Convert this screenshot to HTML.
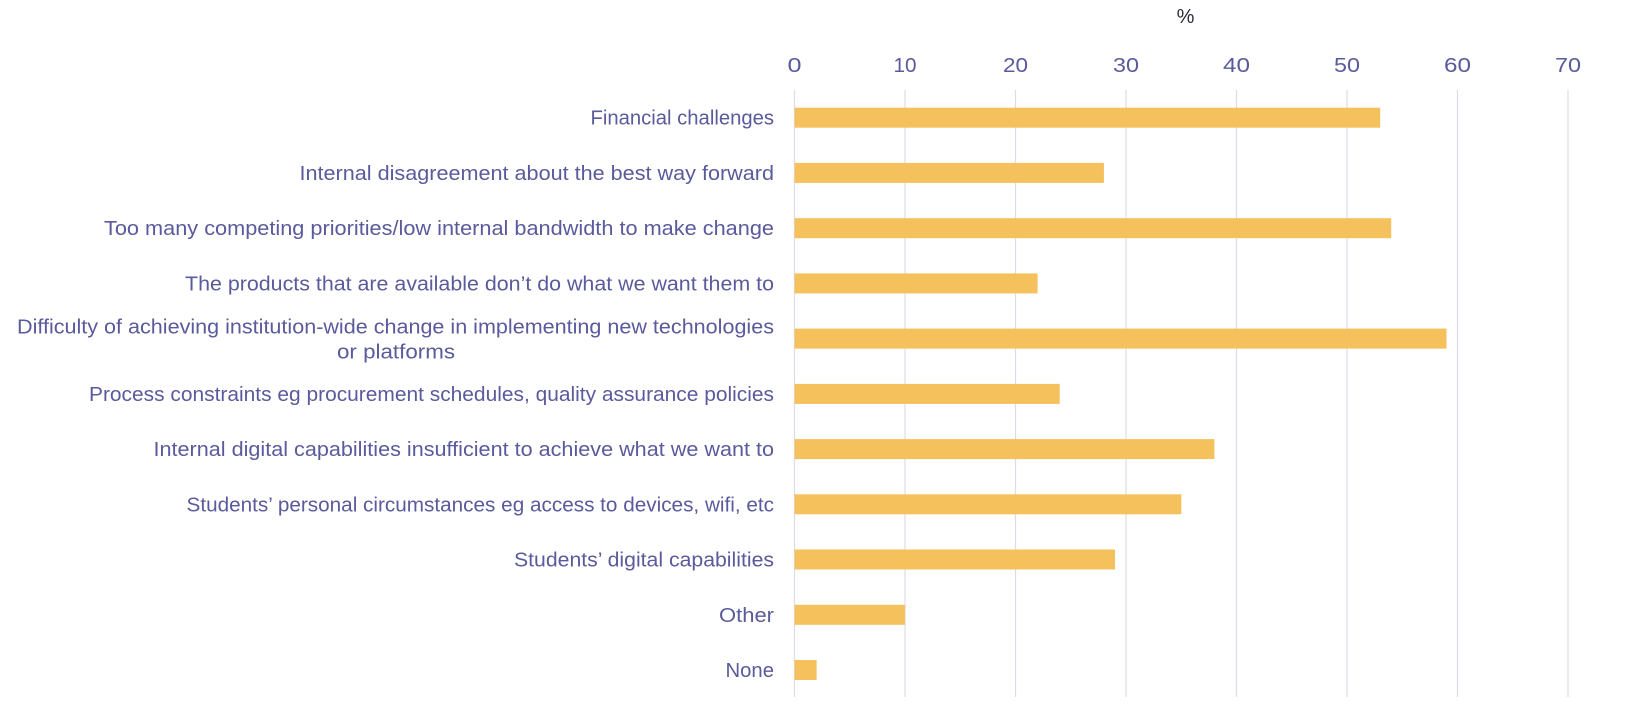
<!DOCTYPE html>
<html><head><meta charset="utf-8"><style>
html,body{margin:0;padding:0;background:#fff;}
svg{display:block;}
text{font-family:"Liberation Sans",sans-serif;}
</style></head><body>
<svg width="1648" height="716" viewBox="0 0 1648 716" xmlns="http://www.w3.org/2000/svg">
<rect width="1648" height="716" fill="#fff"/>
<g stroke="#dcdbe8" stroke-width="1.2">
<line x1="794.5" y1="90" x2="794.5" y2="697"/>
<line x1="905" y1="90" x2="905" y2="697"/>
<line x1="1015.5" y1="90" x2="1015.5" y2="697"/>
<line x1="1126" y1="90" x2="1126" y2="697"/>
<line x1="1236.5" y1="90" x2="1236.5" y2="697"/>
<line x1="1347" y1="90" x2="1347" y2="697"/>
<line x1="1457.5" y1="90" x2="1457.5" y2="697"/>
<line x1="1568" y1="90" x2="1568" y2="697"/>
</g>
<g fill="#5a5a9c" font-size="20" text-anchor="middle">
<text x="794.5" y="72" textLength="14" lengthAdjust="spacingAndGlyphs">0</text>
<text x="905" y="72" textLength="23" lengthAdjust="spacingAndGlyphs">10</text>
<text x="1015.5" y="72" textLength="25" lengthAdjust="spacingAndGlyphs">20</text>
<text x="1126" y="72" textLength="26" lengthAdjust="spacingAndGlyphs">30</text>
<text x="1236.5" y="72" textLength="27" lengthAdjust="spacingAndGlyphs">40</text>
<text x="1347" y="72" textLength="26" lengthAdjust="spacingAndGlyphs">50</text>
<text x="1457.5" y="72" textLength="27" lengthAdjust="spacingAndGlyphs">60</text>
<text x="1568" y="72" textLength="26" lengthAdjust="spacingAndGlyphs">70</text>
</g>
<text x="1185.5" y="23" font-size="20" fill="#2b2b3a" text-anchor="middle">%</text>
<g fill="#f4c15d">
<rect x="794.5" y="107.7" width="585.7" height="20"/>
<rect x="794.5" y="162.9" width="309.4" height="20"/>
<rect x="794.5" y="218.2" width="596.7" height="20"/>
<rect x="794.5" y="273.4" width="243.1" height="20"/>
<rect x="794.5" y="328.6" width="652" height="20"/>
<rect x="794.5" y="383.9" width="265.2" height="20"/>
<rect x="794.5" y="439.1" width="419.9" height="20"/>
<rect x="794.5" y="494.3" width="386.8" height="20"/>
<rect x="794.5" y="549.5" width="320.5" height="20"/>
<rect x="794.5" y="604.8" width="110.5" height="20"/>
<rect x="794.5" y="660" width="22.1" height="20"/>
</g>
<g fill="#5a5a9c" font-size="20" text-anchor="end">
<text x="774" y="124.7" textLength="183.5" lengthAdjust="spacingAndGlyphs">Financial challenges</text>
<text x="774" y="179.9" textLength="474.5" lengthAdjust="spacingAndGlyphs">Internal disagreement about the best way forward</text>
<text x="774" y="235.2" textLength="670" lengthAdjust="spacingAndGlyphs">Too many competing priorities/low internal bandwidth to make change</text>
<text x="774" y="290.4" textLength="589" lengthAdjust="spacingAndGlyphs">The products that are available don’t do what we want them to</text>
<text x="774" y="333.7" textLength="757" lengthAdjust="spacingAndGlyphs">Difficulty of achieving institution-wide change in implementing new technologies</text>
<text x="455" y="358.7" textLength="118" lengthAdjust="spacingAndGlyphs">or platforms</text>
<text x="774" y="400.9" textLength="685" lengthAdjust="spacingAndGlyphs">Process constraints eg procurement schedules, quality assurance policies</text>
<text x="774" y="456.1" textLength="620.5" lengthAdjust="spacingAndGlyphs">Internal digital capabilities insufficient to achieve what we want to</text>
<text x="774" y="511.3" textLength="587.5" lengthAdjust="spacingAndGlyphs">Students’ personal circumstances eg access to devices, wifi, etc</text>
<text x="774" y="566.5" textLength="260" lengthAdjust="spacingAndGlyphs">Students’ digital capabilities</text>
<text x="774" y="621.8" textLength="55" lengthAdjust="spacingAndGlyphs">Other</text>
<text x="774" y="677" textLength="48.5" lengthAdjust="spacingAndGlyphs">None</text>
</g>
</svg>
</body></html>
